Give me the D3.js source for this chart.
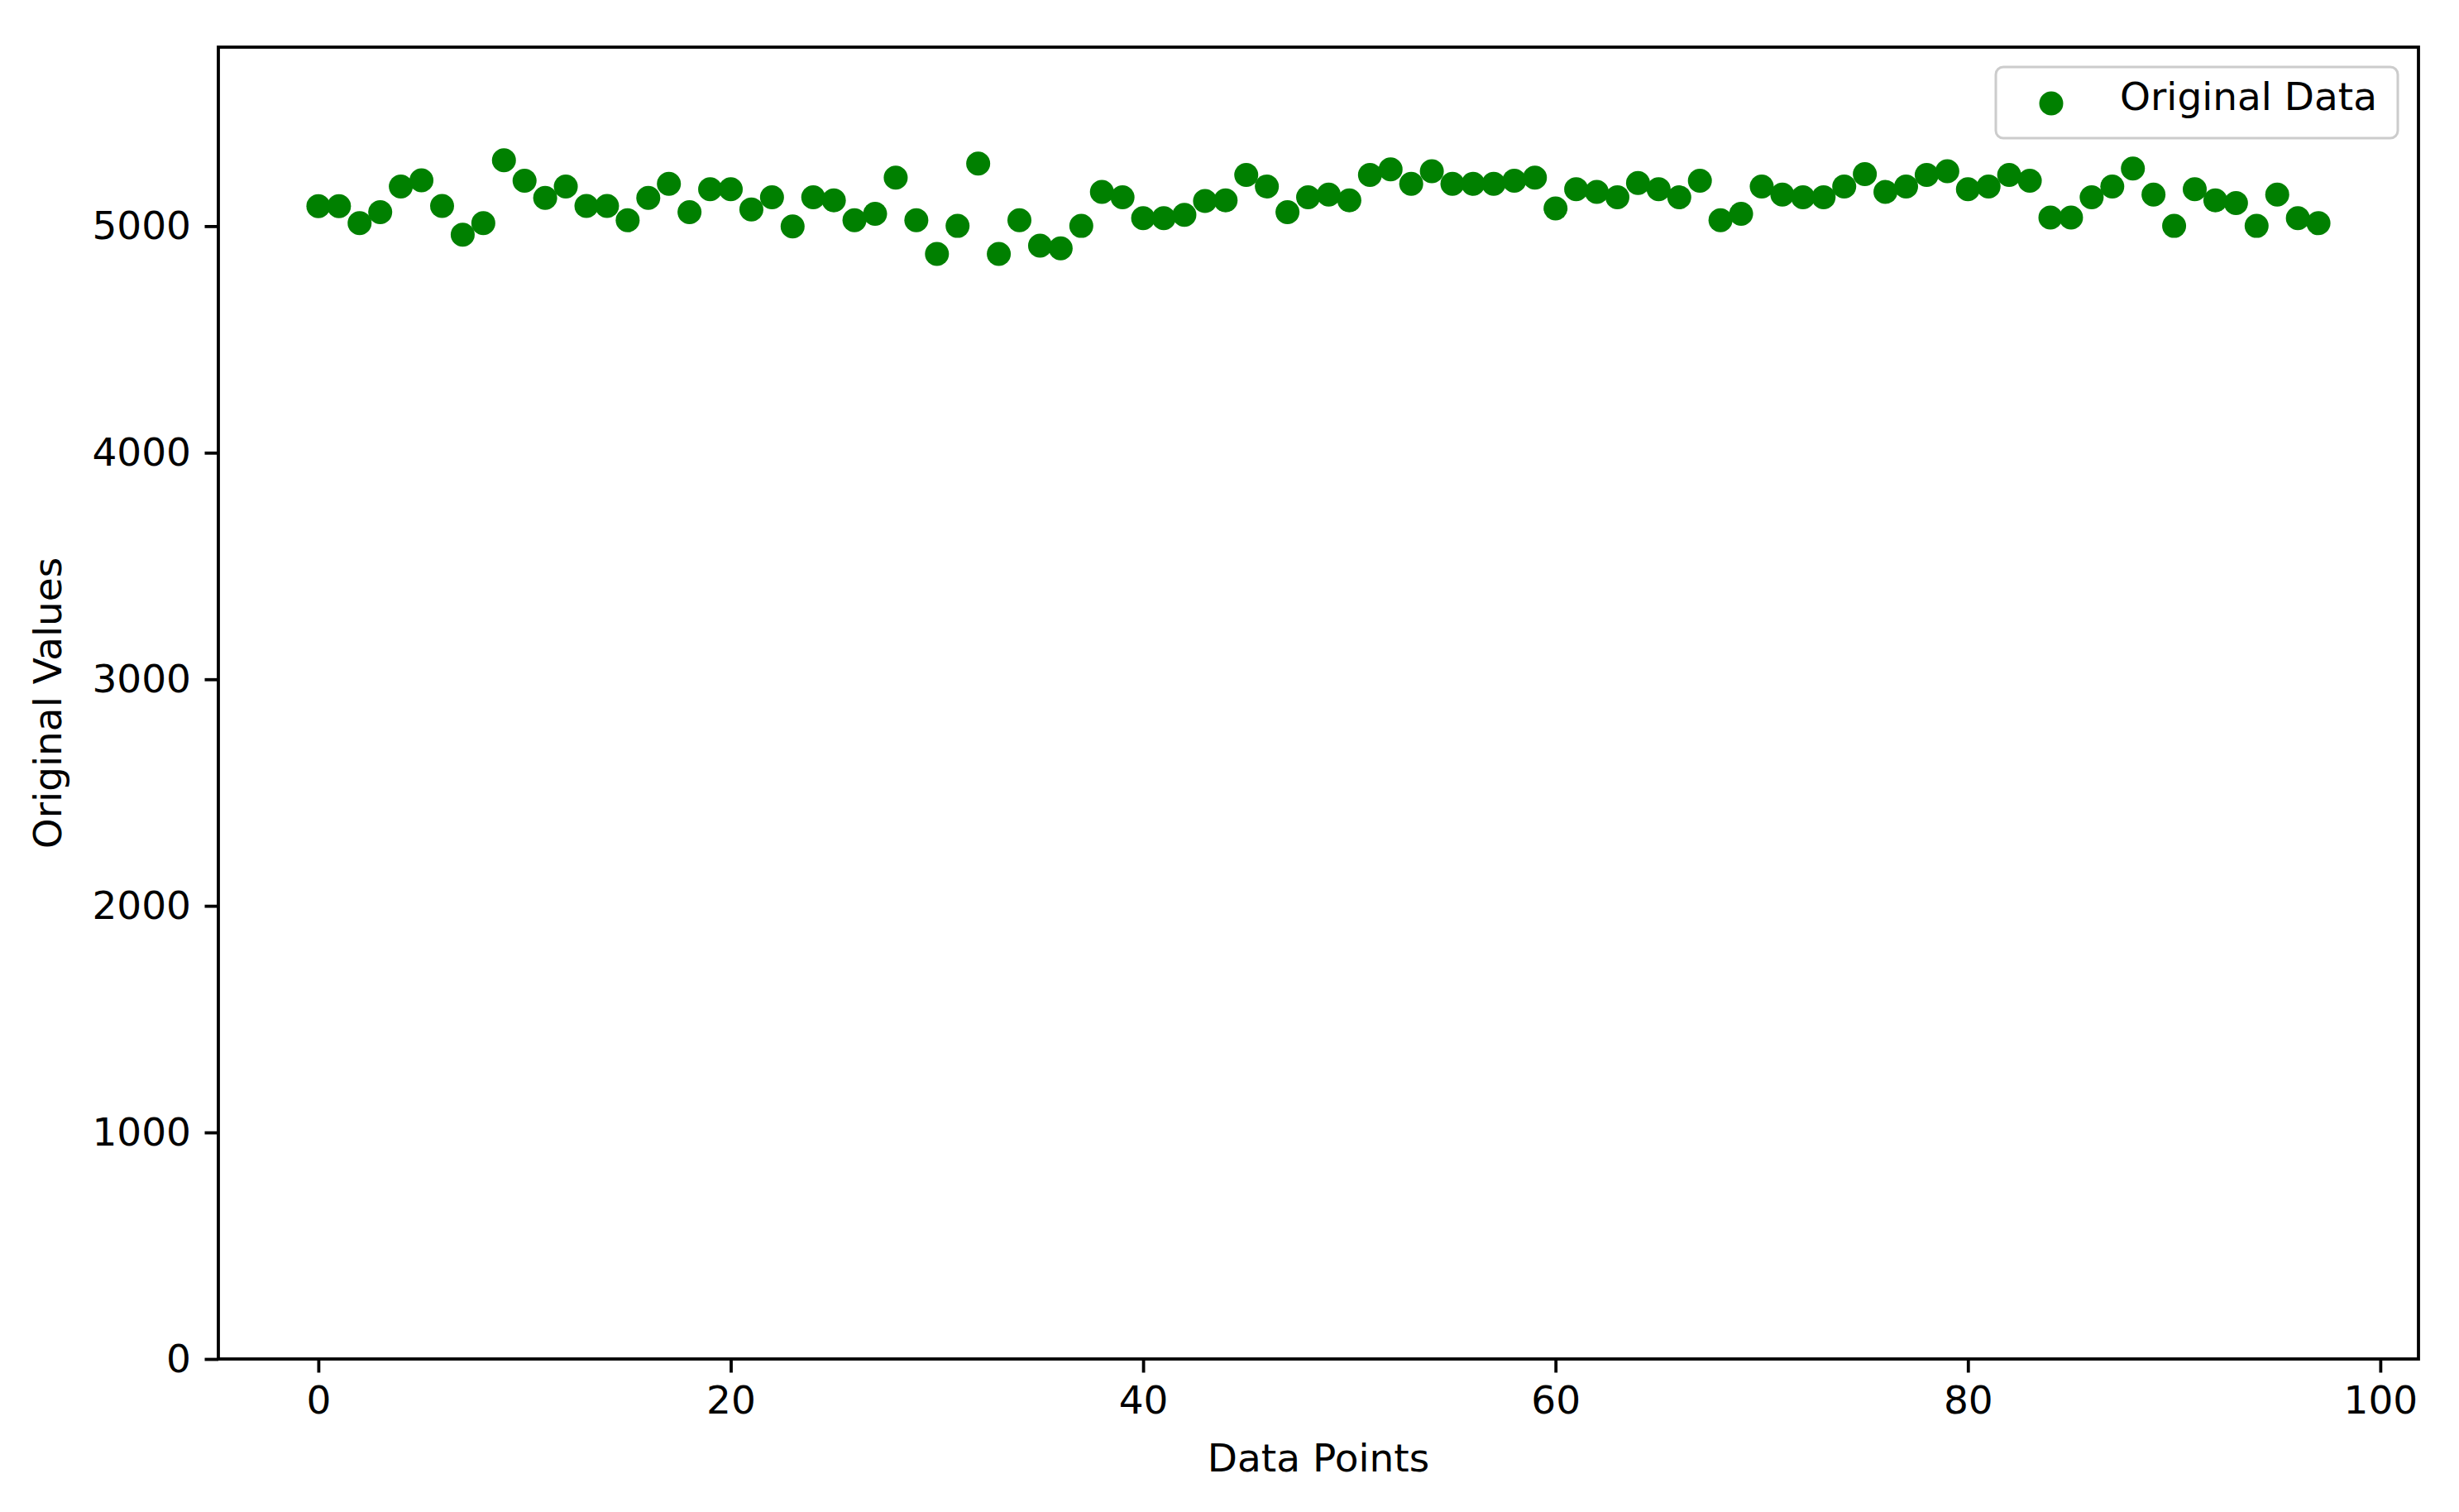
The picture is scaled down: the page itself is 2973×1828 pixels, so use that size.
<!doctype html>

<html lang="en">
<head>
  <meta charset="utf-8">
  <title>Original Data scatter</title>

<style>

body {
  margin: 0;
  background: white;
}

svg text {
  font-family: "DejaVu Sans", sans-serif;
  fill: black;
}

.axis path,
.axis line {
  stroke: black;
}

</style>

    <script src="https://d3js.org/d3.v7.min.js" charset="utf-8"></script>

</head>
<body>

<div class="chart"></div>

<script>

  // values, one per data point (index 0..97)
  let original_values = [
    5088, 5088, 5013, 5062, 5175, 5202, 5089, 4962, 5013, 5291,
    5200, 5125, 5175, 5089, 5089, 5026, 5125, 5187, 5062, 5163,
    5163, 5074, 5127, 4999, 5127, 5114, 5026, 5054, 5214, 5026,
    4877, 5001, 5276, 4877, 5026, 4914, 4902, 5001, 5151, 5127,
    5035, 5035, 5050, 5111, 5114, 5226, 5175, 5062, 5127, 5139,
    5114, 5226, 5251, 5187, 5242, 5187, 5187, 5187, 5200, 5214,
    5078, 5163, 5151, 5127, 5190, 5163, 5127, 5200, 5026, 5054,
    5175, 5139, 5127, 5127, 5175, 5230, 5151, 5175, 5226, 5242,
    5163, 5175, 5226, 5200, 5038, 5038, 5127, 5175, 5254, 5139,
    5001, 5163, 5114, 5102, 5001, 5139, 5035, 5013
  ];

  let x_ticks = [0, 20, 40, 60, 80, 100];
  let y_ticks = [0, 1000, 2000, 3000, 4000, 5000];

  let x_label = 'Data Points';
  let y_label = 'Original Values';
  let legend_label = 'Original Data';

  //Width and height
  let w = 2973;
  let h = 1828;

  // plot box
  let margin = {left: 264, right: 49, top: 57, bottom: 185};

  let font_size = 47;
  let tick_len = 16.5;
  let tick_pad = 16.5;
  let dot_r = 14.5;

  let svg = d3.select('.chart').append('svg')
    .attr('width', w)
    .attr('height', h);

  // matplotlib style 5% margins on x
  let n = original_values.length;
  let pad = (n - 1) * 0.05;

  let x = d3.scaleLinear()
    .domain([-pad, n - 1 + pad])
    .range([margin.left, w - margin.right]);

  let y = d3.scaleLinear()
    .domain([0, 5790])
    .range([h - margin.bottom, margin.top]);

  let data = original_values.map(function(v, i) {
    return {i: i, v: v};
  });

  // x axis
  let x_axis = svg.append('g')
    .attr('class', 'axis')
    .attr('transform', 'translate(0,' + (h - margin.bottom) + ')')
    .call(d3.axisBottom(x)
      .tickValues(x_ticks)
      .tickSize(tick_len)
      .tickPadding(tick_pad)
      .tickFormat(d3.format('d')));

  // y axis
  let y_axis = svg.append('g')
    .attr('class', 'axis')
    .attr('transform', 'translate(' + margin.left + ',0)')
    .call(d3.axisLeft(y)
      .tickValues(y_ticks)
      .tickSize(tick_len)
      .tickPadding(tick_pad)
      .tickFormat(d3.format('d')));

  // the domain paths get replaced by the frame below
  svg.selectAll('.axis .domain').remove();
  svg.selectAll('.axis line').attr('stroke-width', 3.8);
  svg.selectAll('.axis text')
    .attr('font-size', font_size)
    .style('font-family', '"DejaVu Sans", sans-serif')
    .attr('fill', 'black');

  // points
  svg.append('g')
    .selectAll('circle')
    .data(data)
    .enter()
    .append('circle')
    .attr('cx', function(d) { return x(d.i); })
    .attr('cy', function(d) { return y(d.v); })
    .attr('r', dot_r)
    .attr('fill', '#008000');

  // frame round the plot
  svg.append('rect')
    .attr('x', margin.left)
    .attr('y', margin.top)
    .attr('width', w - margin.left - margin.right)
    .attr('height', h - margin.top - margin.bottom)
    .attr('fill', 'none')
    .attr('stroke', 'black')
    .attr('stroke-width', 3.8);

  // axis titles
  svg.append('text')
    .attr('x', (margin.left + w - margin.right) / 2)
    .attr('y', 1779)
    .attr('text-anchor', 'middle')
    .attr('font-size', font_size)
    .text(x_label);

  svg.append('text')
    .attr('transform', 'translate(74,' + ((margin.top + h - margin.bottom) / 2) + ') rotate(-90)')
    .attr('text-anchor', 'middle')
    .attr('font-size', font_size)
    .text(y_label);

  // legend, top right
  let legend = svg.append('g');

  legend.append('rect')
    .attr('x', 2413)
    .attr('y', 81)
    .attr('width', 486)
    .attr('height', 86)
    .attr('rx', 9)
    .attr('fill', 'white')
    .attr('fill-opacity', 0.8)
    .attr('stroke', '#cccccc')
    .attr('stroke-width', 3);

  legend.append('circle')
    .attr('cx', 2480)
    .attr('cy', 125)
    .attr('r', dot_r)
    .attr('fill', '#008000');

  // baseline sits a bit higher than the marker centre in the original
  legend.append('text')
    .attr('x', 2563)
    .attr('y', 133)
    .attr('font-size', font_size)
    .text(legend_label);

</script>

    </body>
</html>
